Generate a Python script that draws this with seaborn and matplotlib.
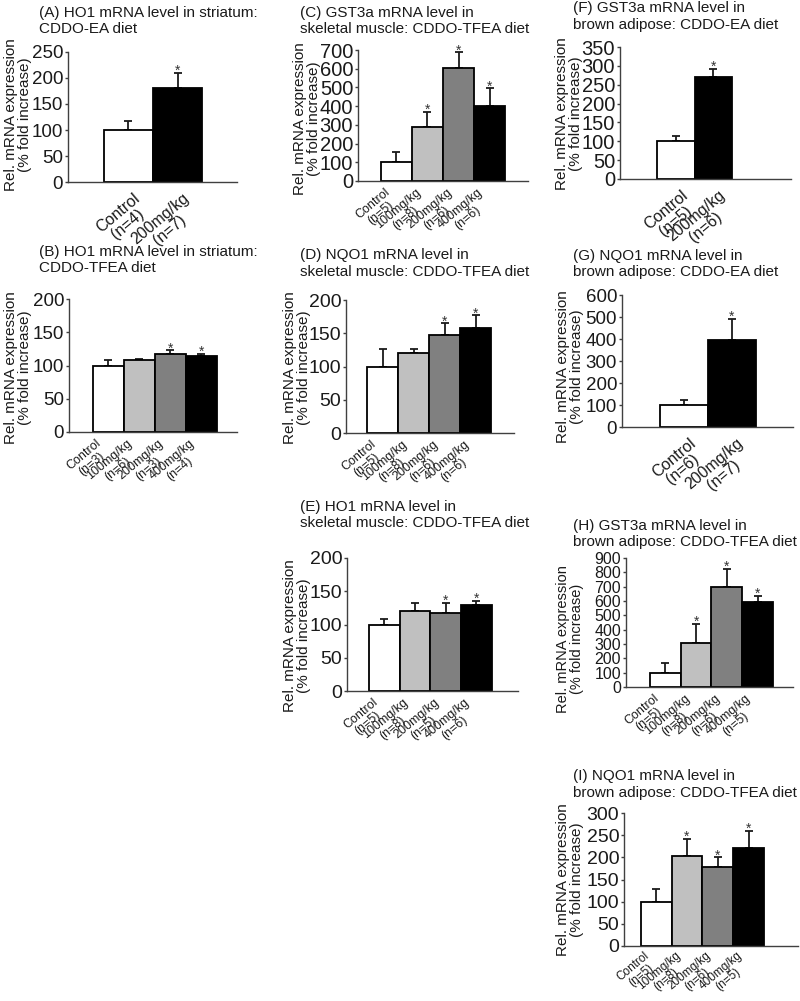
import numpy as np
import pandas as pd
import matplotlib
matplotlib.use("Agg")
import matplotlib.pyplot as plt
from matplotlib.transforms import ScaledTranslation
import seaborn as sns

sns.set_theme(style="white")
plt.rcParams["font.family"] = ["Liberation Sans", "DejaVu Sans"]

TXT = "#1a1a1a"
YLABEL = "Rel. mRNA expression\n(% fold increase)"

# ---------------- data ----------------
A_title = ["(A) HO1 mRNA level in striatum:", "CDDO-EA diet"]
A_groups = ["Control\n(n=4)", "200mg/kg\n(n=7)"]
A_vals = [100, 180]
A_err = [17, 30]
A_stars = [1]

B_title = ["(B) HO1 mRNA level in striatum:", "CDDO-TFEA diet"]
B_groups = ["Control\n(n=3)", "100mg/kg\n(n=6)", "200mg/kg\n(n=3)", "400mg/kg\n(n=4)"]
B_vals = [100, 108, 118, 114]
B_err = [8, 2, 5, 3]
B_stars = [2, 3]

C_title = ["(C) GST3a mRNA level in", "skeletal muscle: CDDO-TFEA diet"]
C_groups = ["Control\n(n=5)", "100mg/kg\n(n=8)", "200mg/kg\n(n=6)", "400mg/kg\n(n=6)"]
C_vals = [100, 290, 603, 400]
C_err = [55, 80, 85, 95]
C_stars = [1, 2, 3]

D_title = ["(D) NQO1 mRNA level in", "skeletal muscle: CDDO-TFEA diet"]
D_groups = ["Control\n(n=5)", "100mg/kg\n(n=8)", "200mg/kg\n(n=6)", "400mg/kg\n(n=6)"]
D_vals = [100, 121, 147, 158]
D_err = [27, 5, 18, 19]
D_stars = [2, 3]

E_title = ["(E) HO1 mRNA level in", "skeletal muscle: CDDO-TFEA diet"]
E_groups = ["Control\n(n=5)", "100mg/kg\n(n=8)", "200mg/kg\n(n=5)", "400mg/kg\n(n=6)"]
E_vals = [100, 121, 118, 129]
E_err = [9, 11, 15, 7]
E_stars = [2, 3]

F_title = ["(F) GST3a mRNA level in", "brown adipose: CDDO-EA diet"]
F_groups = ["Control\n(n=5)", "200mg/kg\n(n=6)"]
F_vals = [100, 271]
F_err = [15, 21]
F_stars = [1]

G_title = ["(G) NQO1 mRNA level in", "brown adipose: CDDO-EA diet"]
G_groups = ["Control\n(n=6)", "200mg/kg\n(n=7)"]
G_vals = [100, 395]
G_err = [21, 96]
G_stars = [1]

H_title = ["(H) GST3a mRNA level in", "brown adipose: CDDO-TFEA diet"]
H_groups = ["Control\n(n=5)", "100mg/kg\n(n=8)", "200mg/kg\n(n=6)", "400mg/kg\n(n=5)"]
H_vals = [100, 305, 695, 595]
H_err = [70, 135, 130, 40]
H_stars = [1, 2, 3]

I_title = ["(I) NQO1 mRNA level in", "brown adipose: CDDO-TFEA diet"]
I_groups = ["Control\n(n=5)", "100mg/kg\n(n=8)", "200mg/kg\n(n=6)", "400mg/kg\n(n=5)"]
I_vals = [100, 202, 178, 220]
I_err = [28, 39, 22, 40]
I_stars = [1, 2, 3]

COL2 = ["#ffffff", "#000000"]
COL4 = ["#ffffff", "#c0c0c0", "#808080", "#000000"]

# layout: box = (left, right, top, bottom) px; tl = title (x, y1, y2); yl = ylabel centre (x, y)
panels = [
    dict(t=A_title, g=A_groups, v=A_vals, e=A_err, s=A_stars, box=(68, 237, 52, 182),
         xlim=(-1.23, 2.21), ymax=250, step=50, tl=(39, 13, 29), yl=(18, 115), ys=13.5, yf=11,
         xf=11.5, xp=6),
    dict(t=B_title, g=B_groups, v=B_vals, e=B_err, s=B_stars, box=(69, 237, 299, 432),
         xlim=(-1.26, 4.16), ymax=200, step=50, tl=(39, 252, 268), yl=(18, 368), ys=13.5, yf=11,
         xf=9, xp=4),
    dict(t=C_title, g=C_groups, v=C_vals, e=C_err, s=C_stars, box=(358, 528, 50, 181),
         xlim=(-1.24, 4.24), ymax=700, step=100, tl=(300, 13, 29), yl=(307, 119), ys=14.5, yf=11,
         xf=9, xp=4),
    dict(t=D_title, g=D_groups, v=D_vals, e=D_err, s=D_stars, box=(346, 514, 300, 433),
         xlim=(-1.19, 4.23), ymax=200, step=50, tl=(300, 255, 272), yl=(297, 368), ys=14, yf=11,
         xf=9, xp=4),
    dict(t=E_title, g=E_groups, v=E_vals, e=E_err, s=E_stars, box=(347, 518, 558, 691),
         xlim=(-1.21, 4.35), ymax=200, step=50, tl=(300, 507, 523), yl=(297, 636), ys=14, yf=11,
         xf=9, xp=4),
    dict(t=F_title, g=F_groups, v=F_vals, e=F_err, s=F_stars, box=(620, 791, 47, 179),
         xlim=(-1.49, 3.07), ymax=350, step=50, tl=(573, 8, 25), yl=(569, 114), ys=14.5, yf=11,
         xf=11.5, xp=6),
    dict(t=G_title, g=G_groups, v=G_vals, e=G_err, s=G_stars, box=(622, 793, 295, 427),
         xlim=(-1.28, 2.27), ymax=600, step=100, tl=(573, 256, 272), yl=(570, 367), ys=13.5, yf=11,
         xf=11.5, xp=6),
    dict(t=H_title, g=H_groups, v=H_vals, e=H_err, s=H_stars, box=(626, 793, 558, 687),
         xlim=(-1.28, 4.15), ymax=900, step=100, tl=(573, 526, 542), yl=(570, 639), ys=11.5, yf=10.5,
         xf=9, xp=4),
    dict(t=I_title, g=I_groups, v=I_vals, e=I_err, s=I_stars, box=(624, 798, 813, 946),
         xlim=(-1.04, 4.6), ymax=300, step=50, tl=(573, 776, 793), yl=(570, 880), ys=14, yf=11,
         xf=8.5, xp=2.5),
]

W, H = 800, 1001
fig = plt.figure(figsize=(8, 10.01), dpi=100)
fig.patch.set_facecolor("white")

for p in panels:
    left, right, top, bottom = p["box"]
    ax = fig.add_axes([left / W, 1 - bottom / H, (right - left) / W, (bottom - top) / H])
    n = len(p["g"])
    cols = COL2 if n == 2 else COL4
    df = pd.DataFrame({"group": p["g"], "value": p["v"]})
    sns.barplot(data=df, x="group", y="value", hue="group", order=p["g"], hue_order=p["g"],
                palette=cols, width=1, edgecolor="black", linewidth=1.3,
                errorbar=None, legend=False, ax=ax, zorder=2)
    x = np.arange(n)
    ax.errorbar(x, p["v"], yerr=[np.zeros(n), p["e"]], fmt="none", ecolor=TXT,
                elinewidth=1.3, capsize=3, capthick=1.3, zorder=1)
    for i in p["s"]:
        ax.annotate("*", xy=(i, p["v"][i] + p["e"][i]), xytext=(0, -1.5),
                    textcoords="offset points", ha="center", va="baseline",
                    fontsize=10, color="#333333")
    ax.set_xlim(*p["xlim"])
    ax.set_ylim(0, p["ymax"])
    ax.set_yticks(np.arange(0, p["ymax"] + 1, p["step"]))
    ax.set_xlabel("")
    ax.set_ylabel(YLABEL, fontsize=p["yf"], color=TXT, va="center", ha="center",
                  multialignment="center", linespacing=0.95)
    lx, ly = p["yl"]
    ax.yaxis.set_label_coords((lx - left) / (right - left), (bottom - ly) / (bottom - top))
    sns.despine(ax=ax)
    for sp in ("left", "bottom"):
        ax.spines[sp].set_color("#404040")
        ax.spines[sp].set_linewidth(1.0)
    ax.tick_params(axis="y", length=2.5, width=1, direction="out", pad=1.0,
                   labelsize=p["ys"], colors="#404040", labelcolor=TXT, left=True)
    two = n == 2
    ax.tick_params(axis="x", length=0, pad=p["xp"], labelsize=p["xf"], labelcolor=TXT)
    ax.set_xticks(x)
    ax.set_xticklabels(p["g"], rotation=40, ha="right", va="top", rotation_mode="anchor",
                       multialignment="center", linespacing=0.95)
    dx = 5 if two else -12
    for lab in ax.get_xticklabels():
        lab.set_transform(lab.get_transform() + ScaledTranslation(dx / 100, 0, fig.dpi_scale_trans))
    tx, t1, t2 = p["tl"]
    fig.text(tx / W, 1 - t1 / H, p["t"][0], ha="left", va="center", fontsize=11, color=TXT)
    fig.text(tx / W, 1 - t2 / H, p["t"][1], ha="left", va="center", fontsize=11, color=TXT)

fig.savefig("out.png", dpi=100, facecolor="white")
